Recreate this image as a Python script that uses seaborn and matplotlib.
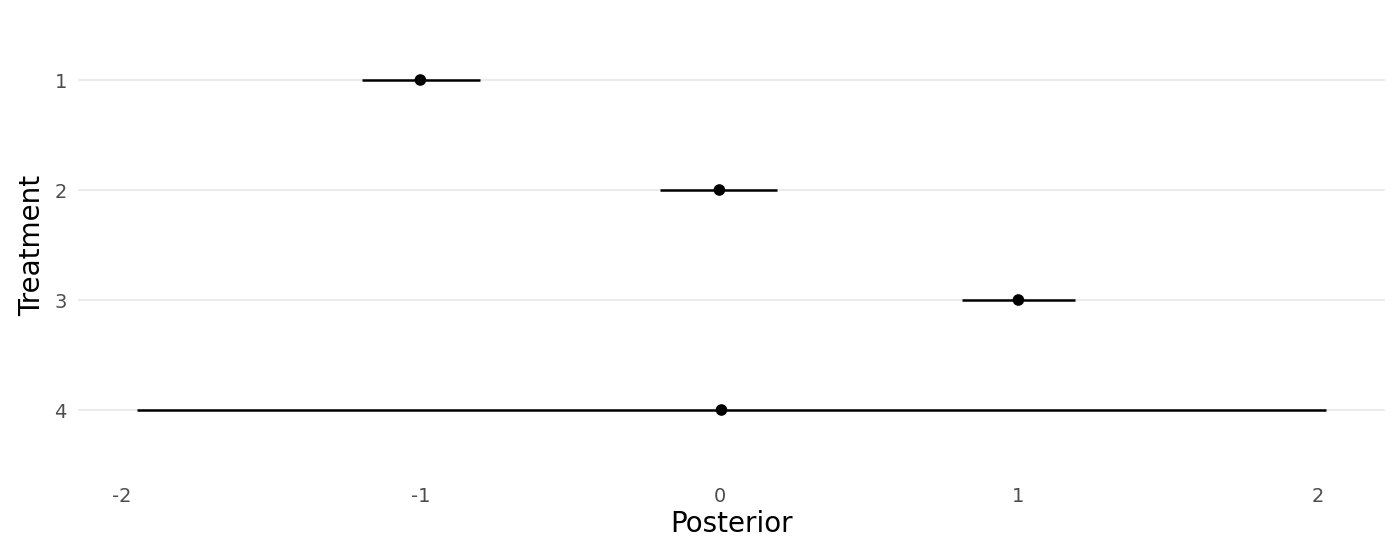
import pandas as pd
import numpy as np
import matplotlib
matplotlib.use("Agg")
import matplotlib.pyplot as plt
import seaborn as sns

# Values #
treatment = ["1", "2", "3", "4"]
posterior = [-1.0, 0.0, 1.0, 0.007]
lower = [-1.195, -0.197, 0.81, -1.946]
upper = [-0.80, 0.194, 1.19, 2.027]
x_ticks = [-2, -1, 0, 1, 2]

df = pd.DataFrame({"Treatment": treatment, "Posterior": posterior,
                   "lower": lower, "upper": upper})

sns.set_style("white")
plt.rcParams['font.family'] = ['DejaVu Sans']

fig = plt.figure(figsize=(14, 5.6), dpi=100)
ax = fig.add_axes([0.0557, 0.15, 0.9336, 0.825])

sns.scatterplot(data=df, x="Posterior", y="Treatment", color="black",
                s=70, edgecolor="none", zorder=3, ax=ax)
ax.hlines(y=df["Treatment"], xmin=df["lower"], xmax=df["upper"],
          color="black", linewidth=1.8, zorder=2)

ax.set_ylim(3.6, -0.6)
ax.set_xlim(-2.145, 2.226)
ax.set_xticks(x_ticks)
ax.set_xticklabels([str(t) for t in x_ticks])

ax.grid(axis="y", color="#EBEBEB", linewidth=1.5)
ax.grid(axis="x", visible=False)
ax.set_axisbelow(True)
for s in ax.spines.values():
    s.set_visible(False)
ax.tick_params(length=0, labelsize=14, labelcolor="#4D4D4D", pad=8)
ax.set_xlabel("Posterior", fontsize=20, color="black", labelpad=3)
ax.set_ylabel("Treatment", fontsize=20, color="black", labelpad=6)

fig.savefig("out.png", dpi=100)
